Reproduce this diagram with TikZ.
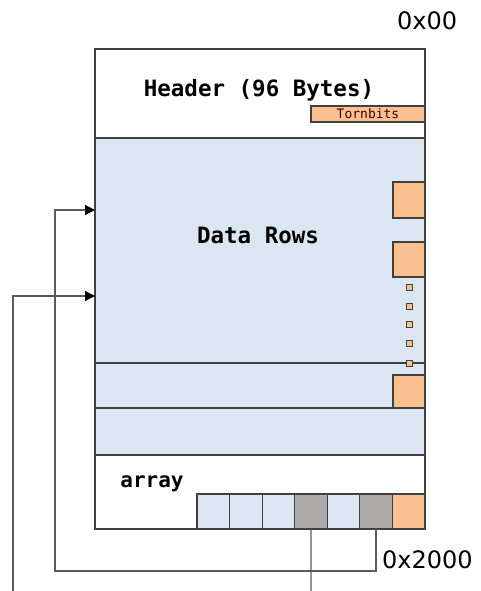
\documentclass[tikz,border=0pt]{standalone}
\usepackage{fontspec}
\setmainfont{DejaVu Sans}
\newfontfamily\monofont{DejaVu Sans Mono}
\usetikzlibrary{arrows.meta}
\definecolor{rowblue}{HTML}{DCE6F2}
\definecolor{cellorange}{HTML}{FAC090}
\definecolor{cellgray}{HTML}{AEAAAA}
\definecolor{edgegray}{HTML}{404040}
\definecolor{linegray}{HTML}{5A5A5A}
\begin{document}
\begin{tikzpicture}[x=1pt,y=-1pt,
  box/.style={draw=edgegray, line width=1.1pt, inner sep=0pt, outer sep=0pt, anchor=north west},
  bluebox/.style={box, fill=rowblue},
  orangebox/.style={box, fill=cellorange},
  tinybox/.style={draw=edgegray, line width=1pt, fill=cellorange, inner sep=0pt, minimum width=6pt, minimum height=6pt},
  bigtext/.style={font=\monofont\bfseries\fontsize{22.5}{26}\selectfont, inner sep=0pt, anchor=base},
  addrtext/.style={font=\fontsize{24}{28}\selectfont, inner sep=0pt, anchor=base west},
  conn/.style={draw=linegray, line width=1.3pt},
  tip/.style={-{Triangle[length=10pt,width=10pt,color=black]}}
]
\useasboundingbox (0,0) rectangle (480,591);

% main structure
\node[box, fill=white, minimum width=330pt, minimum height=89pt] (header) at (95,49) {};
\node[bluebox, minimum width=330pt, minimum height=225pt] (rows) at (95,138) {};
\node[bluebox, minimum width=330pt, minimum height=45pt] (rowb) at (95,363) {};
\node[bluebox, minimum width=330pt, minimum height=47pt] (rowc) at (95,408) {};
\node[box, fill=white, minimum width=330pt, minimum height=74pt] (arr) at (95,455) {};

% tornbits
\node[orangebox, minimum width=114pt, minimum height=16pt] (torn) at (311,106) {};
\node[font=\monofont\fontsize{13}{15}\selectfont, text=black!75!red, inner sep=0pt] (torntext) at (torn.center) {Tornbits};

% orange row markers
\node[orangebox, minimum width=32pt, minimum height=36pt] (o1) at (393,182) {};
\node[orangebox, minimum width=32pt, minimum height=35pt] (o2) at (393,242) {};
\node[orangebox, minimum width=32pt, minimum height=33pt] (o3) at (393,375) {};
\foreach \yy [count=\i] in {287,306,324,343,363}
  \node[tinybox] (s\i) at (409.5,\yy) {};

% texts
\node[bigtext] (htext) at (259,96.5) {Header (96 Bytes)};
\node[bigtext] (dtext) at (258,243) {Data Rows};
\node[bigtext, font=\monofont\bfseries\fontsize{21}{24}\selectfont] (atext) at (152,487) {array};
\node[addrtext] (a0) at (397,29.5) {0x00};
\node[addrtext] (a1) at (382,568) {0x2000};

% array cells
\foreach \c [count=\i from 0] in {rowblue,rowblue,rowblue,cellgray,rowblue,cellgray,cellorange}
  \node[box, fill=\c, minimum width=32.57pt, minimum height=35pt] (cell\i) at ({197+\i*32.57},494) {};

% connectors
\coordinate (turnA) at (55,571);
\coordinate (tgtA) at (95,210);
\coordinate (botB) at (311,591);
\coordinate (botC) at (13,591);
\coordinate (tgtC) at (95,296);
\draw[conn, tip] (cell5.south) |- (turnA) |- (tgtA);
\draw[conn] (cell3.south) -- (botB);
\draw[conn, tip] (botC) |- (tgtC);
\end{tikzpicture}
\end{document}
